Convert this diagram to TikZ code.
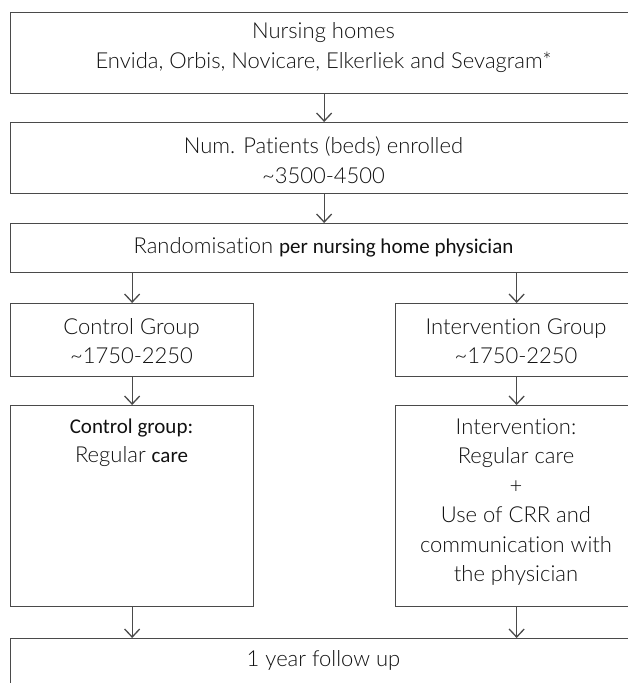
\documentclass[tikz,border=0pt]{standalone}
\usepackage{fontspec}
\setmainfont{Lato Light}[Ligatures=NoCommon]
\newfontfamily\cfam{Carlito}[Ligatures=NoCommon]
\newcommand{\cf}{\cfam\fontsize{21}{29.5}\selectfont}
\usetikzlibrary{arrows.meta}
\definecolor{lc}{HTML}{4A4A4A}
\definecolor{tc}{HTML}{111111}
\begin{document}
\begin{tikzpicture}[x=1pt,y=-1pt,
  box/.style={draw=lc, line width=1.3pt, inner sep=0pt, anchor=north west},
  arr/.style={draw=lc, line width=1.3pt, -{Straight Barb[length=8pt,width=15pt,line width=1.3pt]}},
  txt/.style={font=\fontsize{22}{29.5}\selectfont, text=tc, align=center, inner sep=0pt}]
\path[use as bounding box, clip] (0,0) rectangle (628,683);
\fill[white] (0,0) rectangle (628,683);
% boxes
\node[box, minimum width=627pt, minimum height=81pt] (b1) at (10,12) {};
\node[box, minimum width=627pt, minimum height=71pt] (b2) at (10,122) {};
\node[box, minimum width=627pt, minimum height=49pt] (b3) at (10,223) {};
\node[box, minimum width=243pt, minimum height=73pt] (cg) at (10,303) {};
\node[box, minimum width=242pt, minimum height=73pt] (ig) at (395,303) {};
\node[box, minimum width=243pt, minimum height=201pt] (cc) at (10,405) {};
\node[box, minimum width=242pt, minimum height=201pt] (ic) at (395,405) {};
\node[box, minimum width=627pt, minimum height=80pt] (fu) at (10,638) {};
% texts
\node[txt] (t1) at (323.5,47.5) {Nursing homes\\Envida, Orbis, Novicare, Elkerliek and Sevagram*};
\node[txt] (t2) at (323.5,160) {Num. Patients (beds) enrolled\\\textasciitilde 3500-4500};
\node[txt] (t3) at (323.5,247) {Randomisation {\cf per nursing home physician}};
\node[txt] (t4) at (131.5,341) {Control Group\\\textasciitilde 1750-2250};
\node[txt] (t5) at (516,341) {Intervention Group\\\textasciitilde 1750-2250};
\node[txt] (t6) at (131.5,442.5) {{\cf Control group:}\\Regular {\cf care}};
\node[txt] (t7) at (516,502) {Intervention:\\Regular care\\+\\Use of CRR and\\communication with\\the physician};
\node[txt] (t8) at (323.5,660) {1 year follow up};
% connectors
\draw[arr] (b1.south) -- (b2.north);
\draw[arr] (b2.south) -- (b3.north);
\draw[arr] (b3.south -| cg.north) -- (cg.north);
\draw[arr] (b3.south -| ig.north) -- (ig.north);
\draw[arr] (cg.south) -- (cc.north);
\draw[arr] (ig.south) -- (ic.north);
\draw[arr] (cc.south) -- (fu.north -| cc.south);
\draw[arr] (ic.south) -- (fu.north -| ic.south);
\end{tikzpicture}
\end{document}
